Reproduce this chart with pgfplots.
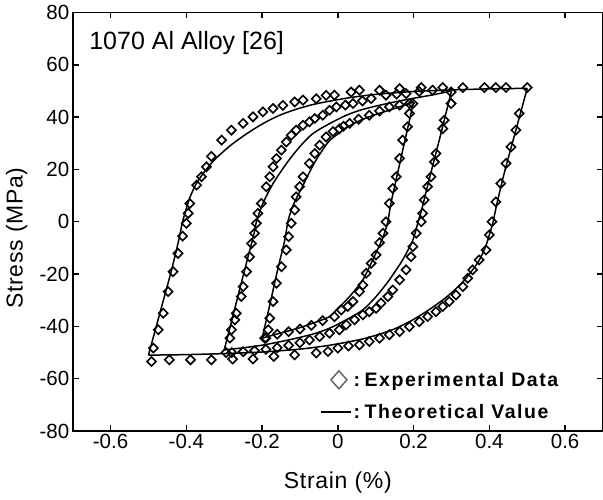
\documentclass[border=0pt]{standalone}
\usepackage{pgfplots}
\pgfplotsset{compat=1.18}
\usepackage{fontspec}
\setmainfont{Liberation Sans}
\newfontfamily\legfont{Liberation Sans}[LetterSpace=8]
\newfontfamily\labfont{Liberation Sans}[LetterSpace=3]
\begin{document}
\begin{tikzpicture}[x=1pt,y=1pt]
\useasboundingbox (0,0) rectangle (603,500);
\begin{axis}[
  at={(72.7pt,69pt)}, anchor=south west,
  scale only axis, width=530.3pt, height=418.5pt,
  xmin=-0.7, xmax=0.7, ymin=-80, ymax=80,
  xtick={-0.6,-0.4,-0.2,0,0.2,0.4,0.6},
  xticklabels={-0.6,-0.4,-0.2,0,0.2,0.4,0.6},
  ytick={-80,-60,-40,-20,0,20,40,60,80},
  yticklabels={-80,-60,-40,-20,0,20,40,60,80},
  tick align=inside, major tick length=6pt,
  tick style={line width=1.5pt, black},
  axis line style={line width=1.8pt},
  ticklabel style={font=\fontsize{20.5}{24}\selectfont},
  xlabel={Strain (\%)}, ylabel={Stress (MPa)},
  label style={font=\labfont\fontsize{23}{27}\selectfont},
  xlabel style={at={(axis description cs:0.5,-0.124)}, anchor=center},
  ylabel style={at={(axis description cs:-0.1056,0.461)}, anchor=center, rotate=0},
  legend cell align=left,
  legend style={at={(axis description cs:0.4663,0.146)}, anchor=north west,
    draw=none, fill=none, inner sep=0pt, row sep=10pt, column sep=0pt,
    font=\legfont\bfseries\fontsize{19.5}{23}\selectfont,
    nodes={inner sep=2pt, text height=14pt, text depth=4pt}},
  theo/.style={black, line width=1.5pt, smooth, tension=0.45, no marks},
  expd/.style={only marks, mark=square, mark size=3.2pt, black,
    mark options={rotate=45, line width=1.6pt, solid}},
]
% ---------- experimental data ----------
\addplot[expd, legend image code/.code={\draw[black!60, line width=1.5pt] (18pt,10.5pt)--(26pt,1.5pt)--(18pt,-7.5pt)--(10pt,1.5pt)--cycle;}] coordinates {
(-0.487,-48.3) (-0.474,-41.3) (-0.461,-35) (-0.448,-26.7) (-0.435,-19.1) (-0.422,-12.1)
(-0.41,-5.5) (-0.4,-0.6) (-0.395,3.2) (-0.391,7) (-0.373,14) (-0.36,17.2) (-0.347,21)
(-0.334,25) (-0.307,31.2) (-0.281,35) (-0.25,37.6) (-0.224,40.1) (-0.198,42) (-0.171,43.3)
(-0.145,44.5) (-0.114,45.8) (-0.092,46.5) (-0.057,47) (-0.031,48.3) (-0.009,48.4)
(0.035,49.6) (0.057,50.3) (0.11,50.3) (0.163,50.9) (0.22,51.3) (0.277,51.3) (0.33,51.3)
(0.387,51.3) (0.417,51.3) (0.444,51.3) (0.5,51.3)};
\addlegendentry{:\hspace{4.5pt}Experimental Data}
\addplot[expd, forget plot] coordinates {
(0.479,41.4) (0.47,35) (0.457,28.6) (0.444,22.3) (0.43,14.6) (0.417,7.6) (0.407,0)
(0.4,-5) (0.391,-10.8) (0.373,-14.6) (0.356,-18.4) (0.343,-21.6) (0.33,-24.8) (0.312,-28)
(0.294,-30.5) (0.277,-32.4) (0.259,-34.4) (0.237,-36.3) (0.215,-38.2) (0.189,-40.1)
(0.163,-42) (0.136,-43.2) (0.11,-44.5) (0.083,-45.8) (0.057,-47.1) (0.028,-47.5) (0,-48.3)
(-0.026,-49.6) (-0.057,-50.2) (-0.114,-50.9) (-0.169,-51.5) (-0.224,-52.5) (-0.278,-52.5)
(-0.334,-52.8) (-0.389,-52.8) (-0.445,-52.8) (-0.492,-53.4)};
\addplot[expd, forget plot] coordinates {
(0.299,49.6) (0.299,45.2) (0.281,38.8) (0.277,35.6) (0.259,26.1) (0.255,22.9) (0.246,17.2)
(0.237,13.4) (0.228,8.3) (0.224,3.2) (0.22,0) (0.207,-4.4) (0.198,-9.5) (0.193,-13.4)
(0.18,-18.4) (0.163,-22.2) (0.145,-26.1) (0.132,-28.6) (0.114,-31.1) (0.101,-33.1)
(0.083,-34.4) (0.066,-35.6) (0.044,-37.5) (0.022,-39.4) (0.004,-41.3) (-0.022,-42.6)
(-0.048,-43.9) (-0.075,-45.2) (-0.1,-46.3) (-0.13,-47.3) (-0.16,-48.2) (-0.19,-48.8)
(-0.22,-49.3) (-0.25,-49.7) (-0.28,-50) (-0.295,-50)};
\addplot[expd, forget plot] coordinates {
(-0.285,-44.5) (-0.281,-41.3) (-0.272,-37.5) (-0.268,-35) (-0.255,-28.6) (-0.25,-24.8)
(-0.241,-19.1) (-0.233,-13.4) (-0.228,-8.3) (-0.22,-4.4) (-0.215,-0.6) (-0.211,3.2)
(-0.202,7) (-0.189,13.4) (-0.18,17.2) (-0.171,21) (-0.162,24.2) (-0.149,27.4) (-0.136,30.5)
(-0.123,33.1) (-0.11,35) (-0.092,36.9) (-0.075,38.2) (-0.061,39.5) (-0.04,40.7)
(-0.022,42.6) (-0.004,43.9) (0.02,44.6) (0.04,45.2) (0.065,46.2) (0.088,47.1) (0.127,48.4)
(0.155,48.8) (0.18,49) (0.215,49.8) (0.25,50.3)};
\addplot[expd, forget plot] coordinates {
(-0.193,-44.5) (-0.184,-41.3) (-0.18,-36.9) (-0.171,-30.5) (-0.162,-23.5) (-0.149,-17.2)
(-0.136,-10.8) (-0.13,-5.7) (-0.123,-0.6) (-0.114,4.5) (-0.11,9.5) (-0.101,13.4)
(-0.092,17.2) (-0.075,22.3) (-0.061,26.1) (-0.048,29.3) (-0.031,32.4) (-0.013,34.5)
(0.004,35.5) (0.015,36.5) (0.031,37.6) (0.055,39.2) (0.083,40.7) (0.11,42.3) (0.136,43.9)
(0.163,44.6) (0.189,45.2)};
\addplot[expd, forget plot] coordinates {
(0.198,45.2) (0.189,41.4) (0.184,36.3) (0.171,31.2) (0.163,24.2) (0.154,17.2) (0.145,12.7)
(0.136,7) (0.127,0) (0.119,-4.4) (0.11,-8) (0.101,-12.7) (0.088,-15.9) (0.075,-19.7)
(0.066,-24.2) (0.057,-26.7) (0.04,-30.5) (0.026,-32.4) (0.009,-33.7) (-0.009,-36.3)
(-0.04,-37.8) (-0.07,-39.6) (-0.1,-41) (-0.13,-42) (-0.16,-43) (-0.19,-44.5)};
% ---------- theoretical curves ----------
\addplot[theo, legend image code/.code={\draw[black, line width=1.5pt] (0pt,1.5pt)--(30pt,1.5pt);}] coordinates {
(-0.5,-51) (-0.47,-35) (-0.44,-19) (-0.42,-7) (-0.41,0) (-0.40,5) (-0.39,9.5) (-0.37,15.5)
(-0.33,23) (-0.285,29) (-0.24,33.7) (-0.198,37.5) (-0.154,40.7) (-0.11,43) (-0.066,44.8)
(-0.022,46.1) (0.03,47.4) (0.1,48.7) (0.2,49.8) (0.3,50.4) (0.4,50.8) (0.5,51)};
\addlegendentry{:\hspace{4.5pt}Theoretical Value}
\addplot[theo, forget plot] coordinates {
(0.5,51) (0.47,35) (0.44,19) (0.42,7) (0.41,0) (0.40,-5) (0.39,-9.5) (0.37,-15.5)
(0.33,-23) (0.285,-29) (0.24,-33.7) (0.198,-37.5) (0.154,-40.7) (0.11,-43) (0.066,-44.8)
(0.022,-46.1) (-0.03,-47.4) (-0.1,-48.7) (-0.2,-49.8) (-0.3,-50.4) (-0.4,-50.8) (-0.5,-51)};
\addplot[theo, forget plot] coordinates {
(-0.3,-49) (-0.27,-32) (-0.24,-15) (-0.222,-5) (-0.215,0) (-0.198,7) (-0.171,14.6)
(-0.136,22.2) (-0.101,28.6) (-0.066,33.7) (-0.022,37.5) (0.022,40.7) (0.06,42.7)
(0.1,44.2) (0.15,45.8) (0.2,47.2) (0.25,48.5) (0.3,50)};
\addplot[theo, forget plot] coordinates {
(0.3,50) (0.27,32.5) (0.24,15.5) (0.222,5) (0.212,0) (0.198,-7) (0.171,-14.6)
(0.136,-22.2) (0.101,-28.6) (0.066,-33.7) (0.022,-37.5) (-0.022,-40.7) (-0.06,-42.7)
(-0.1,-44.2) (-0.15,-45.8) (-0.2,-47.2) (-0.25,-48.2) (-0.3,-49)};
\addplot[theo, forget plot] coordinates {
(-0.2,-44.5) (-0.18,-32) (-0.16,-19) (-0.14,-7) (-0.132,0) (-0.119,6) (-0.09,14.5)
(-0.06,23) (-0.025,30.5) (0.004,34) (0.022,36) (0.06,38.8) (0.1,41) (0.15,43.3) (0.2,45.8)};
\addplot[theo, forget plot] coordinates {
(0.2,45.8) (0.18,33) (0.16,20) (0.14,7) (0.132,0) (0.119,-6) (0.092,-14.6) (0.066,-22.2)
(0.031,-28.6) (-0.004,-33.7) (-0.022,-36.3) (-0.06,-38.5) (-0.1,-40.5) (-0.15,-42.5)
(-0.2,-44.5)};
\node[anchor=base west, inner sep=0pt, font=\fontsize{25}{30}\selectfont]
  at (axis description cs:0.031,0.9104) {1070 Al Alloy [26]};
\end{axis}
\end{tikzpicture}
\end{document}
